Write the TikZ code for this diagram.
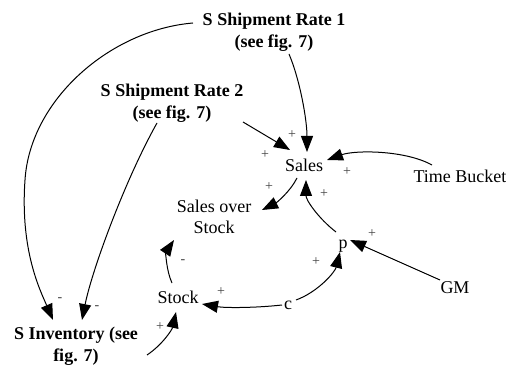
\documentclass[tikz,border=0pt]{standalone}
\usepackage{fontspec}
\setmainfont{Liberation Serif}
\usetikzlibrary{arrows.meta,calc}
\begin{document}
\begin{tikzpicture}[x=1pt,y=-1pt,
  var/.style={inner sep=0pt,align=center,font=\fontsize{18}{21}\selectfont},
  bvar/.style={var,font=\fontsize{18}{21.5}\selectfont\bfseries},
  sgn/.style={inner sep=0pt,font=\fontsize{14}{16}\selectfont,text=black!75},
  link/.style={line width=1pt,-{Triangle[length=16pt,width=12pt]}}]
\useasboundingbox (0,0) rectangle (506,366);
% variables
\node[bvar] (sr1) at (274,32) {S Shipment Rate 1\\(see fig. 7)};
\node[bvar] (sr2) at (172,103) {S Shipment Rate 2\\(see fig. 7)};
\node[bvar] (sinv) at (76,346) {S Inventory (see\\fig. 7)};
\node[var,anchor=base] (sales) at (304,172) {Sales};
\node[var,anchor=base] (tb) at (460,183) {Time Bucket};
\node[var] (sos) at (214,217) {Sales over\\Stock};
\node[var,anchor=base] (p) at (343,248) {p};
\node[var,anchor=base] (gm) at (455,293) {GM};
\node[var,anchor=base] (stock) at (178,303) {Stock};
\node[var,anchor=base] (c) at (288,309) {c};
% links
\draw[link] ($(sr1.center)+(-81,-9)$) .. controls (110,30) and (30,100) .. (25,180)
  .. controls (20,250) and (40,290) .. ($(sinv.center)+(-23,-26)$);
\draw[link] ($(sr2.center)+(-15,20)$) .. controls (125,180) and (92,270) .. ($(sinv.center)+(6,-26)$);
\draw[link] ($(sr1.center)+(15,22)$) .. controls (300,80) and (307,120) .. ($(sales.base)+(3,-20)$);
\draw[link] ($(sr2.center)+(71,19)$) -- ($(sales.base)+(-14,-22)$);
\draw[link] ($(tb.base)+(-28,-18)$) .. controls (405,150) and (355,150) .. ($(sales.base)+(23,-12)$);
\draw[link] ($(sales.base)+(-7,6)$) .. controls (290,192) and (276,203) .. ($(sos.center)+(48,-7)$);
\draw[link] ($(p.base)+(-7,-16)$) .. controls (318,218) and (306,200) .. ($(sales.base)+(2,8)$);
\draw[link] ($(gm.base)+(-15,-13)$) -- ($(p.base)+(7,-8)$);
\draw[link] ($(c.base)+(8,-9)$) .. controls (318,292) and (335,272) .. ($(p.base)+(-3,4)$);
\draw[link] ($(c.base)+(-6,-4)$) .. controls (255,308) and (225,308) .. ($(stock.base)+(24,1)$);
\draw[link] ($(stock.base)+(-6,-20)$) .. controls (166,270) and (166,252) .. ($(sos.center)+(-40,23)$);
\draw[link] ($(sinv.center)+(71,9)$) .. controls (162,345) and (172,330) .. ($(stock.base)+(-2,9)$);
% polarities
\node[sgn] (l1) at (60,300) {-};
\node[sgn] (l2) at (97,308) {-};
\node[sgn] (l3) at (292,135) {+};
\node[sgn] (l4) at (265,155) {+};
\node[sgn] (l5) at (347,172) {+};
\node[sgn] (l6) at (269,187) {+};
\node[sgn] (l7) at (324,194) {+};
\node[sgn] (l8) at (372,234) {+};
\node[sgn] (l9) at (316,262) {+};
\node[sgn] (l10) at (221,292) {+};
\node[sgn] (l11) at (183,262) {-};
\node[sgn] (l12) at (160,327) {+};
\end{tikzpicture}
\end{document}
